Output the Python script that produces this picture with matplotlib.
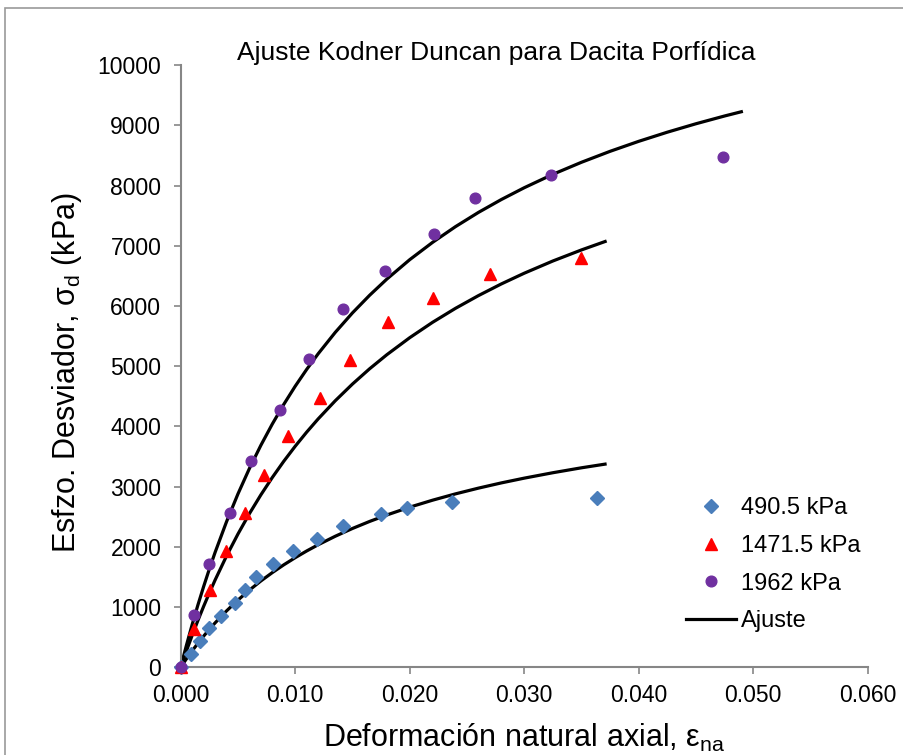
import matplotlib
matplotlib.use('Agg')
import matplotlib.pyplot as plt
from matplotlib.lines import Line2D
from matplotlib.patches import Rectangle

plt.rcParams['font.family'] = ['Liberation Sans', 'DejaVu Sans']
plt.rcParams['mathtext.fontset'] = 'custom'
plt.rcParams['mathtext.rm'] = 'Liberation Sans'
plt.rcParams['mathtext.it'] = 'Liberation Sans'

# ---- data ----
series_labels = ['490.5 kPa', '1471.5 kPa', '1962 kPa']

eps_490 = [0.0, 0.0009, 0.0017, 0.0025, 0.0035, 0.0047, 0.0056, 0.0066, 0.0081,
           0.0098, 0.0119, 0.0142, 0.0175, 0.0198, 0.0237, 0.0364]
sig_490 = [0, 220, 430, 645, 860, 1075, 1285, 1500, 1715, 1925, 2135, 2340,
           2545, 2645, 2740, 2810]

eps_1471 = [0.0, 0.0012, 0.0026, 0.0040, 0.0056, 0.0073, 0.0094, 0.0122, 0.0148,
            0.0181, 0.0220, 0.0270, 0.0350]
sig_1471 = [0, 640, 1285, 1925, 2560, 3200, 3835, 4475, 5110, 5735, 6130, 6525, 6795]

eps_1962 = [0.0, 0.0012, 0.0025, 0.0043, 0.0061, 0.0087, 0.0112, 0.0142, 0.0178,
            0.0221, 0.0257, 0.0323, 0.0474]
sig_1962 = [0, 865, 1720, 2570, 3430, 4270, 5115, 5960, 6575, 7190, 7795, 8175, 8470]

# fitted (Kondner-Duncan) curves
fit_eps_a = [0.0, 0.00025, 0.0005, 0.001, 0.0015, 0.002, 0.0025, 0.003, 0.004,
             0.005, 0.006, 0.007, 0.008, 0.009, 0.010, 0.011, 0.012, 0.0135,
             0.015, 0.0165, 0.018, 0.020, 0.022, 0.024, 0.026, 0.028, 0.030,
             0.0325, 0.035, 0.0372]
fit_490 = [0, 71, 140, 273, 398, 517, 630, 737, 936, 1117, 1282, 1434, 1573,
           1702, 1821, 1932, 2035, 2177, 2306, 2423, 2530, 2660, 2776, 2881,
           2976, 3063, 3142, 3232, 3314, 3379]
fit_1471 = [0, 138, 272, 530, 776, 1011, 1234, 1448, 1848, 2214, 2552, 2864,
            3153, 3422, 3672, 3906, 4125, 4428, 4705, 4959, 5192, 5475, 5731,
            5963, 6174, 6368, 6546, 6749, 6933, 7082]
fit_eps_b = [0.0, 0.00025, 0.0005, 0.001, 0.0015, 0.002, 0.0025, 0.003, 0.004,
             0.005, 0.006, 0.007, 0.008, 0.009, 0.010, 0.011, 0.012, 0.0135,
             0.015, 0.0165, 0.018, 0.020, 0.022, 0.024, 0.026, 0.028, 0.030,
             0.0325, 0.035, 0.0375, 0.040, 0.0425, 0.045, 0.0475, 0.0491]
fit_1962 = [0, 185, 365, 709, 1033, 1340, 1631, 1907, 2417, 2880, 3302, 3687,
            4041, 4367, 4669, 4948, 5207, 5564, 5887, 6180, 6448, 6771, 7059,
            7320, 7556, 7770, 7966, 8189, 8389, 8571, 8737, 8889, 9029, 9158, 9235]

x_ticks = [0.0, 0.01, 0.02, 0.03, 0.04, 0.05, 0.06]
y_ticks = list(range(0, 10001, 1000))

# ---- figure ----
W, H = 904, 755
fig = plt.figure(figsize=(W / 100, H / 100), dpi=100)
fig.patch.set_facecolor('white')
fig.patches.append(Rectangle((5 / W, -0.05), 1.2, 1 - 8 / H + 0.05,
                             transform=fig.transFigure, fill=False,
                             edgecolor='#9a9a9a', linewidth=1.2, zorder=0))

left, right, top, bottom = 180.7, 867.7, 65.3, 667.3
ax = fig.add_axes([left / W, 1 - bottom / H, (right - left) / W, (bottom - top) / H])

blue = '#4A7EBB'
red = '#FF0000'
purple = '#7030A0'
gray = '#868686'

for ex, fy in [(fit_eps_a, fit_490), (fit_eps_a, fit_1471), (fit_eps_b, fit_1962)]:
    ax.plot(ex, fy, color='black', lw=2.3, zorder=2, solid_capstyle='butt',
            solid_joinstyle='round')

ax.plot(eps_490, sig_490, linestyle='none', marker='D', ms=7, color=blue,
        zorder=3, clip_on=False)
ax.plot(eps_1471, sig_1471, linestyle='none', marker='^', ms=8, color=red,
        zorder=3, clip_on=False)
ax.plot(eps_1962, sig_1962, linestyle='none', marker='o', ms=7.7, color=purple,
        zorder=4, clip_on=False)

ax.set_xlim(0, 0.06)
ax.set_ylim(0, 10000)
ax.set_xticks(x_ticks)
ax.set_xticklabels([f'{v:.3f}' for v in x_ticks])
ax.set_yticks(y_ticks)
ax.set_yticklabels([str(v) for v in y_ticks])

for s in ['top', 'right']:
    ax.spines[s].set_visible(False)
for s in ['left', 'bottom']:
    ax.spines[s].set_color(gray)
    ax.spines[s].set_linewidth(1.5)
ax.tick_params(axis='both', direction='out', length=5, width=1.2, color=gray,
               labelsize=16.5, labelcolor='black')
ax.tick_params(axis='y', pad=9)
ax.tick_params(axis='x', pad=7)

ax.set_title('Ajuste Kodner Duncan para Dacita Porfídica', fontsize=19, pad=0)
ax.title.set_position((0.46, 1.025))
ax.set_xlabel(r'Deformación natural axial, ε$_\mathregular{na}$', fontsize=22, labelpad=11)
ax.set_ylabel(r'Esfzo. Desviador, σ$_\mathregular{d}$ (kPa)', fontsize=22)
ax.yaxis.set_label_coords(-0.141, 0.49)

handles = [
    Line2D([], [], linestyle='none', marker='D', ms=7, color=blue),
    Line2D([], [], linestyle='none', marker='^', ms=8, color=red),
    Line2D([], [], linestyle='none', marker='o', ms=7.7, color=purple),
    Line2D([], [], color='black', lw=2.3),
]
labels = series_labels + ['Ajuste']
fig.legend(handles, labels, loc='upper left', bbox_to_anchor=(686 / W, 1 - 497 / H),
           bbox_transform=fig.transFigure, frameon=False, fontsize=17,
           handlelength=2.12, handletextpad=0.21, labelspacing=0.67,
           borderpad=0, borderaxespad=0, numpoints=1)

fig.savefig('out.png', dpi=100, facecolor='white')
